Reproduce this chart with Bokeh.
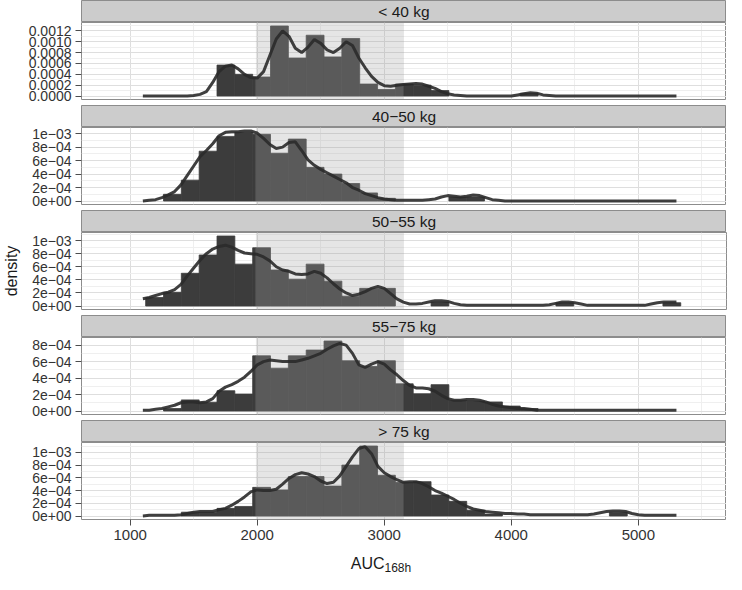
from bokeh.plotting import figure
from bokeh.models import Range1d, FixedTicker, BoxAnnotation, ColumnDataSource
from bokeh.layouts import column
from bokeh.embed import file_html
from bokeh.resources import INLINE
from bokeh.core.properties import value

# ---------------- data ----------------
panel_labels = ["< 40 kg", "40\u221250 kg", "50\u221255 kg", "55\u221275 kg", "> 75 kg"]

x_limits = [617, 5694]
x_ticks = [1000, 2000, 3000, 4000, 5000]
x_minor = [500, 1500, 2500, 3500, 4500, 5500]

target_range = [1990, 3155]        # shaded AUC window

bin_start = 1122
bin_width = 140.4

hist1 = [0, 0, 0, 0, 0.00057, 0.0004, 0.00035, 0.00129, 0.0007, 0.00112,
         0.00072, 0.00106, 0.00022, 0.00012, 0.00022, 0.0002, 0.0001, 0, 0, 0,
         0, 0.00005, 0, 0, 0, 0, 0, 0, 0, 0]
hist2 = [0, 0.0001, 0.00031, 0.00074, 0.00096, 0.00102, 0.00099, 0.00071, 0.00092, 0.0005,
         0.0004, 0.00026, 0.00012, 0.00004, 0, 0, 0, 0.00006, 0.00006, 0,
         0, 0, 0, 0, 0, 0, 0, 0, 0, 0]
hist3 = [0.00013, 0.00021, 0.0005, 0.00078, 0.00107, 0.00064, 0.00089, 0.00055, 0.00041, 0.00064,
         0.00038, 0.00015, 0.00027, 0.00027, 0, 0, 0.00006, 0, 0, 0,
         0, 0, 0, 0.00005, 0, 0, 0, 0, 0, 0.00005]
hist4 = [0, 0.00003, 0.000135, 0.000107, 0.000246, 0.000206, 0.00067, 0.00052, 0.00067, 0.00074,
         0.00085, 0.00061, 0.00054, 0.00061, 0.00033, 0.00021, 0.00032, 0.00013, 0.00012, 0.00011,
         0.00006, 0.00003, 0, 0, 0, 0, 0, 0, 0, 0]
hist5 = [0, 0, 0.00006, 0.00006, 0.00012, 0.00015, 0.00045, 0.00041, 0.00062, 0.00062,
         0.00047, 0.0008, 0.0011, 0.00064, 0.00053, 0.00054, 0.00033, 0.00023, 0.00009, 0.00003,
         0, 0, 0, 0, 0, 0, 0.00006, 0, 0, 0]

dens_x = list(range(1100, 5301, 50))

dens1 = [0, 0, 0, 0, 0, 0, 0, 0, 0.00001, 0.00003,
         0.00008, 0.00025, 0.00045, 0.00055, 0.00057, 0.0005, 0.0004, 0.00034, 0.00033, 0.00045,
         0.00075, 0.00105, 0.0012, 0.0011, 0.00088, 0.0008, 0.0009, 0.00104, 0.00097, 0.00085,
         0.0008, 0.00088, 0.001, 0.00093, 0.0007, 0.00052, 0.00036, 0.00025, 0.00019, 0.00018,
         0.0002, 0.00021, 0.00022, 0.00023, 0.00022, 0.00018, 0.00014, 0.00008, 0.00004, 0.00002,
         0.00001, 0, 0, 0, 0, 0, 0, 0, 0, 0.00002,
         0.00004, 0.00006, 0.00005, 0.00002, 0.00001, 0, 0, 0, 0, 0,
         0, 0, 0, 0, 0, 0, 0, 0, 0, 0,
         0, 0, 0, 0, 0]
dens2 = [0, 0.00001, 0.00002, 0.00005, 0.00009, 0.00014, 0.00024, 0.00038, 0.00052, 0.00066,
         0.00075, 0.00085, 0.00097, 0.00102, 0.00103, 0.00103, 0.00104, 0.00104, 0.00101, 0.00093,
         0.00084, 0.00078, 0.0008, 0.00087, 0.00088, 0.00075, 0.00061, 0.00053, 0.00047, 0.00042,
         0.00037, 0.00032, 0.00027, 0.0002, 0.00016, 0.00011, 0.00008, 0.00005, 0.00003, 0.00002,
         0.00001, 0.00001, 0.00001, 0.00001, 0.00001, 0.00002, 0.00003, 0.00006, 0.00008, 0.00007,
         0.00006, 0.00007, 0.00009, 0.00008, 0.00005, 0.00002, 0.00001, 0, 0, 0,
         0, 0, 0, 0, 0, 0, 0, 0, 0, 0,
         0, 0, 0, 0, 0, 0, 0, 0, 0, 0,
         0, 0, 0, 0, 0]
dens3 = [0.00011, 0.00013, 0.00016, 0.00019, 0.00021, 0.00025, 0.00033, 0.00046, 0.00058, 0.0007,
         0.0008, 0.00087, 0.00091, 0.00093, 0.0009, 0.00085, 0.00081, 0.0008, 0.00079, 0.00075,
         0.00069, 0.0006, 0.00055, 0.00053, 0.00049, 0.00048, 0.00049, 0.00053, 0.0005, 0.00043,
         0.00034, 0.00026, 0.0002, 0.00016, 0.00018, 0.00022, 0.00027, 0.0003, 0.00027, 0.00019,
         0.00011, 0.00006, 0.00003, 0.00003, 0.00004, 0.00006, 0.00008, 0.00008, 0.00007, 0.00004,
         0.00002, 0.00001, 0.00001, 0.00001, 0.00001, 0.00001, 0.00001, 0.00001, 0.00001, 0.00001,
         0.00001, 0.00001, 0.00001, 0.00001, 0.00002, 0.00004, 0.00006, 0.00006, 0.00005, 0.00003,
         0.00001, 0.00001, 0.00001, 0.00001, 0.00001, 0.00001, 0.00001, 0.00001, 0.00001, 0.00001,
         0.00003, 0.00005, 0.00006, 0.00006, 0.00006]
dens4 = [0.00001, 0.00001, 0.00002, 0.00003, 0.00005, 0.00007, 0.0001, 0.00011, 0.00011, 0.0001,
         0.00011, 0.00015, 0.00024, 0.00029, 0.00032, 0.00036, 0.00041, 0.00048, 0.00056, 0.0006,
         0.00062, 0.00061, 0.0006, 0.0006, 0.0006, 0.00062, 0.00064, 0.00067, 0.0007, 0.00075,
         0.00079, 0.00082, 0.0008, 0.0007, 0.00056, 0.00053, 0.00057, 0.0006, 0.00057, 0.0005,
         0.00044, 0.00037, 0.00031, 0.00028, 0.00028, 0.00027, 0.00024, 0.00019, 0.00015, 0.00013,
         0.00013, 0.00014, 0.00014, 0.00013, 0.00011, 0.00008, 0.00006, 0.00005, 0.00004, 0.00003,
         0.00003, 0.00002, 0.00001, 0.00001, 0.00001, 0.00001, 0.00001, 0.00001, 0.00001, 0.00001,
         0.00001, 0.00001, 0.00001, 0.00001, 0.00001, 0.00001, 0.00001, 0.00001, 0.00001, 0.00001,
         0.00001, 0.00001, 0.00001, 0.00001, 0.00001]
dens5 = [0, 0.00001, 0.00001, 0.00001, 0.00001, 0.00001, 0.00002, 0.00004, 0.00006, 0.00007,
         0.00007, 0.00007, 0.0001, 0.00012, 0.00017, 0.00023, 0.0003, 0.00038, 0.00041, 0.0004,
         0.0004, 0.00042, 0.0005, 0.00059, 0.00065, 0.00068, 0.00066, 0.00062, 0.00055, 0.00051,
         0.00053, 0.00063, 0.00078, 0.00093, 0.00106, 0.00109, 0.00098, 0.00078, 0.00068, 0.00062,
         0.00057, 0.00053, 0.00054, 0.00054, 0.00051, 0.00046, 0.0004, 0.00036, 0.00031, 0.00026,
         0.0002, 0.00015, 0.00011, 0.00009, 0.00007, 0.00006, 0.00005, 0.00004, 0.00004, 0.00003,
         0.00003, 0.00002, 0.00002, 0.00002, 0.00002, 0.00002, 0.00002, 0.00002, 0.00002, 0.00002,
         0.00002, 0.00003, 0.00005, 0.00007, 0.00008, 0.00008, 0.00007, 0.00004, 0.00002, 0.00001,
         0.00001, 0.00001, 0.00001, 0.00001, 0.00001]

y_ticks = [
    [0, 0.0002, 0.0004, 0.0006, 0.0008, 0.001, 0.0012],
    [0, 0.0002, 0.0004, 0.0006, 0.0008, 0.001],
    [0, 0.0002, 0.0004, 0.0006, 0.0008, 0.001],
    [0, 0.0002, 0.0004, 0.0006, 0.0008],
    [0, 0.0002, 0.0004, 0.0006, 0.0008, 0.001],
]
y_minor = [0.0001, 0.0003, 0.0005, 0.0007, 0.0009, 0.0011, 0.0013]
y_label_style = ["fixed", "sci", "sci", "sci", "sci"]

hists = [hist1, hist2, hist3, hist4, hist5]
denss = [dens1, dens2, dens3, dens4, dens5]

# ---------------- style ----------------
FONT = "Liberation Sans"
LEFT = 80
FW = 726 - LEFT - 1
FH, SH, GAP = 77, 22, 6
XAXIS_H, TITLE_H = 27, 28
DARK, LIGHT = "#3c3c3c", "#5a5a5a"
BORDER = "#8c8c8c"
TXT = "#1a1a1a"


def fmt(v, style):
    if style == "fixed":
        return f"{v:.4f}"
    return f"{v:.0e}".replace("-", "\u2212")


def split_bars(heights):
    lo, hi = target_range
    L, R, T, C = [], [], [], []
    for k, h in enumerate(heights):
        if h <= 0:
            continue
        a = bin_start + k * bin_width
        b = a + bin_width
        cuts = [a] + [c for c in (lo, hi) if a < c < b] + [b]
        for l, r in zip(cuts[:-1], cuts[1:]):
            mid = 0.5 * (l + r)
            L.append(l); R.append(r); T.append(h)
            C.append(LIGHT if lo <= mid <= hi else DARK)
    return dict(left=L, right=R, top=T, color=C)


def base_fig(**kw):
    return figure(frame_width=FW, min_border_left=LEFT, min_border_right=1,
                  min_border_top=0, toolbar_location=None, output_backend="svg",
                  tools="", border_fill_color="white", **kw)


xr = Range1d(*x_limits)
children = []
for i in range(5):
    # strip header
    s = base_fig(x_range=Range1d(0, 1), y_range=Range1d(0, 1), frame_height=SH,
                 min_border_bottom=0, x_axis_location=None, y_axis_location=None,
                 background_fill_color="#cccccc", outline_line_color=BORDER)
    s.grid.visible = False
    s.text(x=[0.5], y=[0.5], text=[panel_labels[i]], text_align="center",
           text_baseline="middle", text_font=value(FONT), text_font_size="15.5px",
           text_color=TXT)
    children.append(s)

    last = (i == 4)
    M = max(max(hists[i]), max(denss[i]))
    p = base_fig(x_range=xr, y_range=Range1d(-0.05 * M, 1.05 * M), frame_height=FH,
                 min_border_bottom=(XAXIS_H if last else GAP),
                 x_axis_location=("below" if last else None),
                 background_fill_color="white", outline_line_color=BORDER)

    # grids
    p.xgrid.ticker = FixedTicker(ticks=x_ticks, minor_ticks=x_minor)
    p.ygrid.ticker = FixedTicker(ticks=y_ticks[i], minor_ticks=y_minor)
    for g in (p.xgrid, p.ygrid):
        g.grid_line_color = "#dedede"
        g.grid_line_width = 1
        g.minor_grid_line_color = "#efefef"
        g.minor_grid_line_width = 1

    # y axis
    ax = p.yaxis[0]
    ax.ticker = FixedTicker(ticks=y_ticks[i], minor_ticks=y_minor)
    ax.major_label_overrides = {v: fmt(v, y_label_style[i]) for v in y_ticks[i]}
    ax.major_tick_out = 6
    ax.major_tick_in = 0
    ax.minor_tick_out = 0
    ax.minor_tick_in = 0
    ax.axis_line_color = None
    ax.major_tick_line_color = "#4d4d4d"
    ax.major_label_text_font = FONT
    ax.major_label_text_font_size = "14px"
    ax.major_label_text_color = "#333333"
    ax.major_label_standoff = 4
    if i == 2:
        ax.axis_label = "density"
        ax.axis_label_text_font = FONT
        ax.axis_label_text_font_size = "16px"
        ax.axis_label_text_font_style = "normal"
        ax.axis_label_text_color = TXT
        ax.axis_label_standoff = 9

    if last:
        xa = p.xaxis[0]
        xa.ticker = FixedTicker(ticks=x_ticks, minor_ticks=x_minor)
        xa.major_tick_out = 6
        xa.major_tick_in = 0
        xa.minor_tick_out = 0
        xa.minor_tick_in = 0
        xa.axis_line_color = None
        xa.major_tick_line_color = "#4d4d4d"
        xa.major_label_text_font = FONT
        xa.major_label_text_font_size = "15px"
        xa.major_label_text_color = "#333333"
        xa.major_label_standoff = 4

    # shaded target window
    p.add_layout(BoxAnnotation(left=target_range[0], right=target_range[1],
                               fill_color="#999999", fill_alpha=0.25, line_color=None,
                               level="underlay"))

    src = ColumnDataSource(split_bars(hists[i]))
    p.quad(left="left", right="right", top="top", bottom=0, fill_color="color",
           line_color="color", line_width=0.8, source=src)
    p.line(dens_x, denss[i], line_color="#2a2a2a", line_width=3, line_alpha=0.9)

    children.append(p)

# x-axis title with subscript (pixel-unit frame)
t = base_fig(x_range=Range1d(0, FW), y_range=Range1d(0, TITLE_H), frame_height=TITLE_H,
             min_border_bottom=0, x_axis_location=None, y_axis_location=None,
             background_fill_color="white", outline_line_color=None)
t.grid.visible = False
t.text(x=[303], y=[11], text=["AUC"], text_align="right", text_baseline="alphabetic",
       text_font=value(FONT), text_font_size="16px", text_color=TXT)
t.text(x=[303], y=[6.5], text=["168h"], text_align="left", text_baseline="alphabetic",
       text_font=value(FONT), text_font_size="12px", text_color=TXT)
children.append(t)

layout = column(children, spacing=0)
open("out.html", "w").write(file_html(layout, INLINE, "density"))
